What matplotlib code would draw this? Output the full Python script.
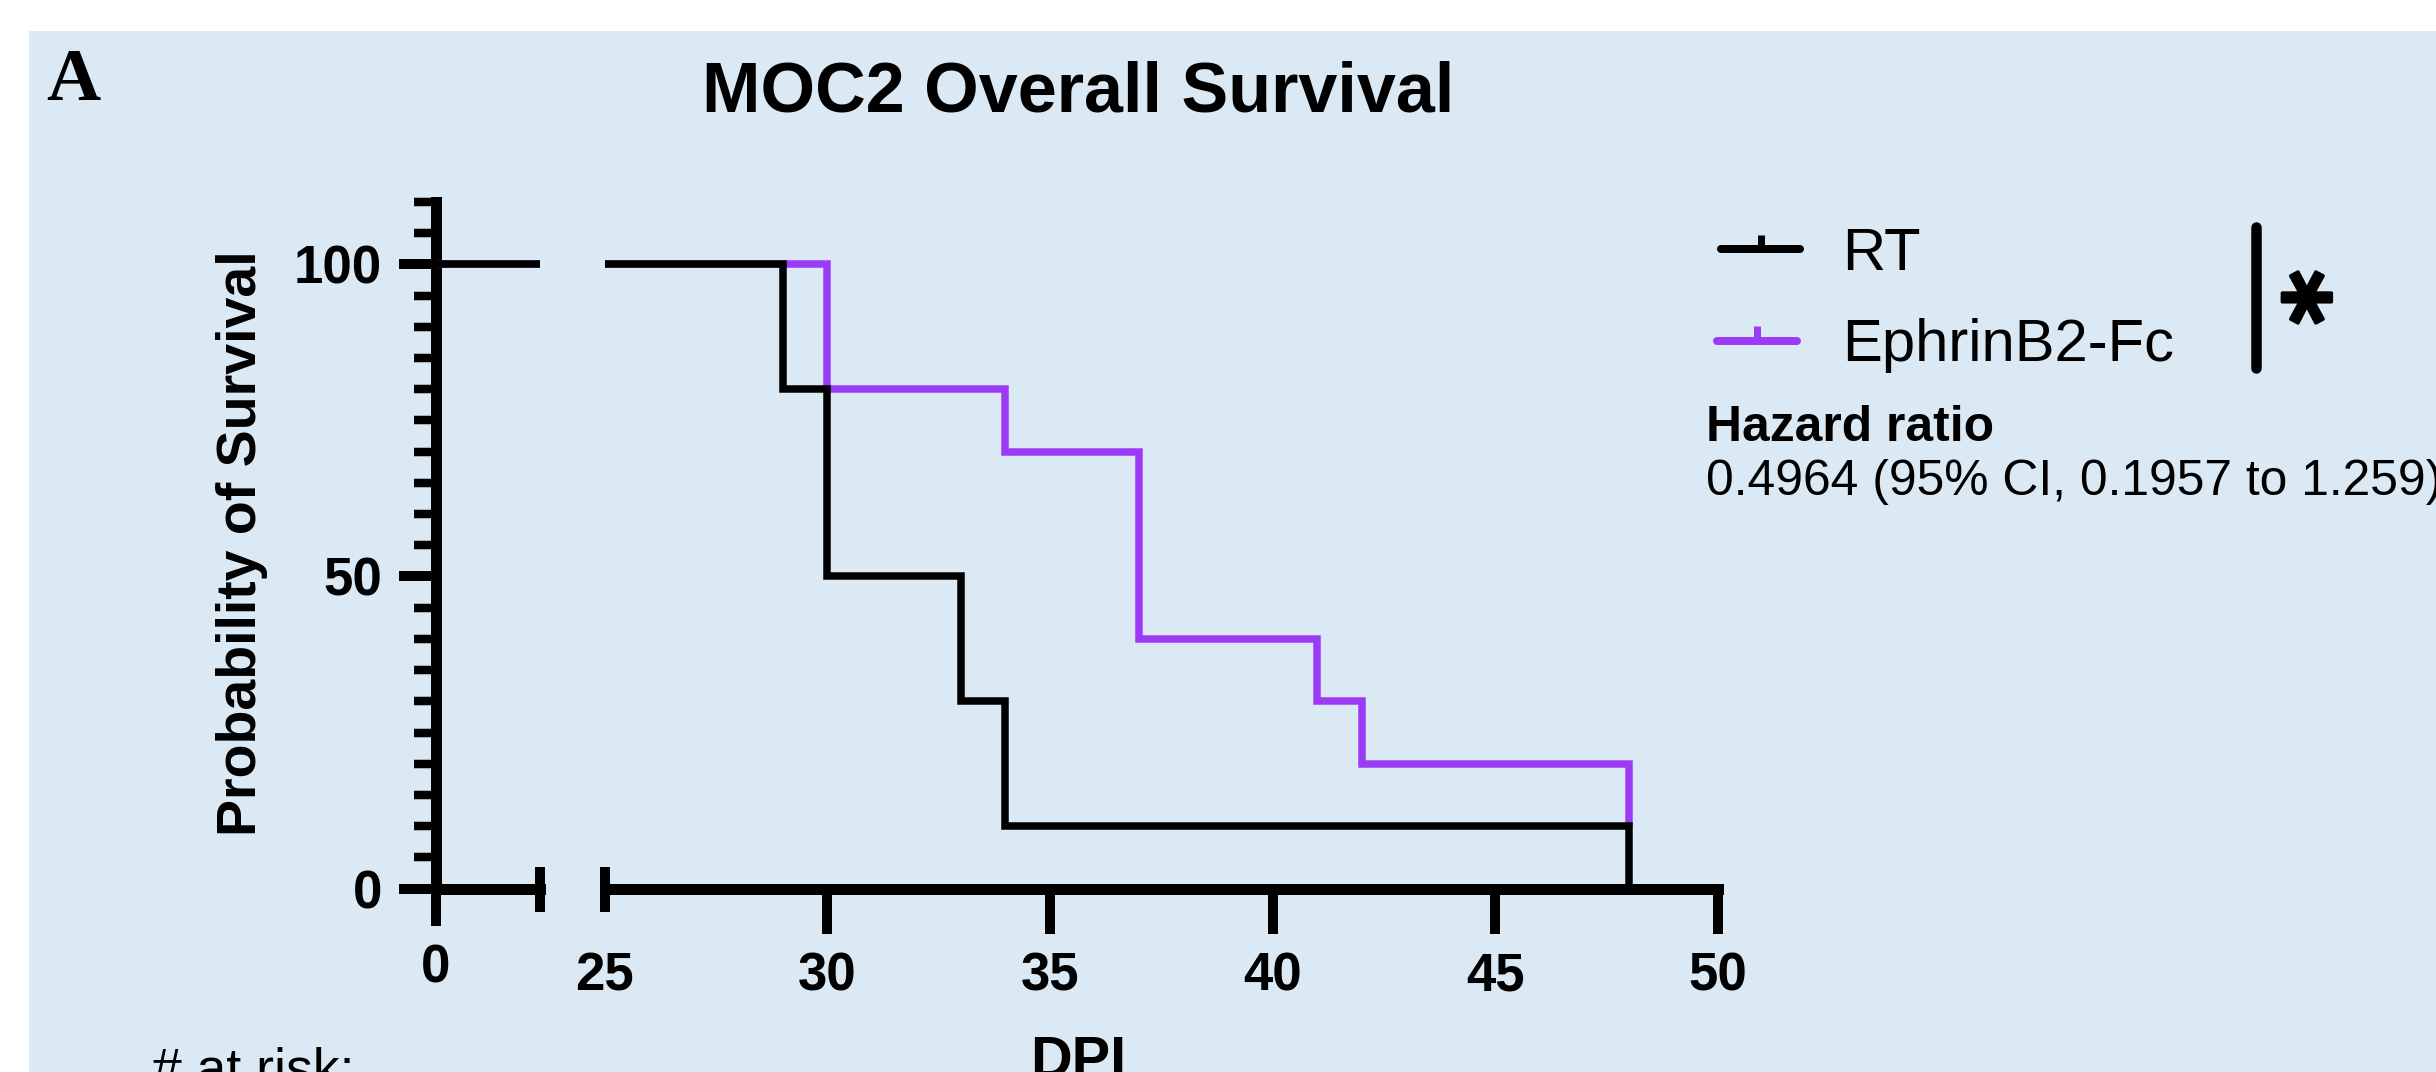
import matplotlib
matplotlib.use('Agg')
import matplotlib.pyplot as plt
import matplotlib.patheffects as pe
from matplotlib.patches import Rectangle
from matplotlib.lines import Line2D
from matplotlib.ticker import FixedLocator, FixedFormatter, NullFormatter

plt.rcParams['font.family'] = ['Liberation Sans', 'DejaVu Sans']
plt.rcParams['font.weight'] = 'bold'

# ---------------- data ----------------
rt_days = [0, 29, 30, 33, 34, 48]
rt_surv = [100, 80, 50, 30, 10, 0]
eph_days = [0, 30, 34, 37, 41, 42, 48]
eph_surv = [100, 80, 70, 40, 30, 20, 10]
series_names = ['RT', 'EphrinB2-Fc']
series_colors = ['#000000', '#9B3BF6']
x_ticks_left = [0]
x_ticks_right = [30, 35, 40, 45, 50]
x_break_start = [25]
y_ticks = [0, 50, 100]
y_minor = [v for v in range(5, 111, 5) if v not in (50, 100)]
title = 'MOC2 Overall Survival'
y_label = 'Probability of Survival'
x_label = 'DPI'
panel_letter = 'A'
hr_label = 'Hazard ratio'
hr_text = '0.4964 (95% CI, 0.1957 to 1.259)'
sig_text = '*'
risk_text = '# at risk:'

# ---------------- figure ----------------
W, H = 2436, 1072
DPI = 100
PT = 72 / DPI  # points per pixel
fig = plt.figure(figsize=(W / DPI, H / DPI), dpi=DPI, facecolor='white')


def fx(px):
    return px / W


def fy(py):
    return 1 - py / H


fig.patches.append(Rectangle((fx(29), 0), 1 - fx(29), fy(31), transform=fig.transFigure,
                             facecolor='#DAE9F4', edgecolor='none', zorder=-10))

y0_px, ytop_px = 888.6, 201.9
ax1 = fig.add_axes([fx(436), fy(y0_px), fx(540) - fx(436), fy(ytop_px) - fy(y0_px)])
ax2 = fig.add_axes([fx(604.5), fy(y0_px), fx(1718) - fx(604.5), fy(ytop_px) - fy(y0_px)])

spine_lw = 11 * PT
tick_w = 10 * PT
curve_lw = 7.5 * PT

for ax in (ax1, ax2):
    ax.set_facecolor('none')
    ax.spines['top'].set_visible(False)
    ax.spines['right'].set_visible(False)
    ax.spines['bottom'].set_linewidth(spine_lw)
    ax.spines['left'].set_linewidth(spine_lw)
    ax.set_ylim(0, 110)
    # curves
    ax.plot(eph_days, eph_surv, drawstyle='steps-post', color=series_colors[1], lw=curve_lw,
            solid_joinstyle='miter', solid_capstyle='butt', zorder=3)
    ax.plot(rt_days, rt_surv, drawstyle='steps-post', color=series_colors[0], lw=curve_lw,
            solid_joinstyle='miter', solid_capstyle='butt', zorder=4)

ax1.set_xlim(0, 2.34)
ax2.set_xlim(25, 50)
ax2.spines['left'].set_visible(False)

# y axis (on ax1)
ax1.yaxis.set_major_locator(FixedLocator(y_ticks))
ax1.yaxis.set_minor_locator(FixedLocator(y_minor))
ax1.tick_params(axis='y', which='major', direction='out', length=37 * PT, width=tick_w,
                pad=17 * PT, labelsize=38)
ax1.tick_params(axis='y', which='minor', direction='out', length=22.4 * PT, width=tick_w * 0.85)
ax2.tick_params(axis='y', which='both', left=False, labelleft=False)

# x axis, first segment
ax1.xaxis.set_major_locator(FixedLocator(x_ticks_left))
ax1.xaxis.set_minor_locator(FixedLocator([2.34]))
ax1.xaxis.set_minor_formatter(NullFormatter())
ax1.tick_params(axis='x', which='major', direction='out', length=37 * PT, width=tick_w,
                pad=18 * PT, labelsize=38)
ax1.tick_params(axis='x', which='minor', direction='inout', length=45 * PT, width=tick_w)

# x axis, second segment
ax2.xaxis.set_major_locator(FixedLocator(x_ticks_right))
ax2.xaxis.set_minor_locator(FixedLocator(x_break_start))
ax2.xaxis.set_minor_formatter(FixedFormatter([str(v) for v in x_break_start]))
ax2.tick_params(axis='x', which='major', direction='out', length=45 * PT, width=tick_w,
                pad=17.5 * PT, labelsize=38)
ax2.tick_params(axis='x', which='minor', direction='inout', length=45 * PT, width=tick_w,
                pad=(17.5 + 22.5) * PT, labelsize=38)

# axis labels
ax1.set_ylabel(y_label, fontsize=40, fontweight='bold', va='baseline')
ax1.yaxis.set_label_coords(fx(255.5), fy(543.5), transform=fig.transFigure)
fig.text(fx(1078.5), fy(1035), x_label, ha='center', va='top', fontsize=41.5, fontweight='bold')

# title and panel letter
fig.text(fx(1078), fy(111.7), title, ha='center', va='baseline', fontsize=50.5, fontweight='bold')
fig.text(fx(46), fy(100), panel_letter, ha='left', va='baseline', fontsize=54, fontweight='bold',
         family=['Liberation Serif', 'DejaVu Serif'])

# legend (manual, Prism style)
leg_rows = [(249.3, 1721, 1800, 1760.5, 235), (340.7, 1717, 1797, 1757, 326)]
for (ly, lx0, lx1, tx, ttop), name, col in zip(leg_rows, series_names, series_colors):
    fig.add_artist(Line2D([fx(lx0), fx(lx1)], [fy(ly), fy(ly)], transform=fig.transFigure,
                          color=col, lw=8 * PT, solid_capstyle='round'))
    fig.add_artist(Line2D([fx(tx), fx(tx)], [fy(ly), fy(ttop)], transform=fig.transFigure,
                          color=col, lw=7 * PT, solid_capstyle='butt'))
    fig.text(fx(1842), fy(ly + 20.5), name, ha='left', va='baseline', fontsize=43,
             fontweight='normal')

# significance bracket
fig.add_artist(Line2D([fx(2256), fx(2256)], [fy(227), fy(368)], transform=fig.transFigure,
                      color='black', lw=10.5 * PT, solid_capstyle='round'))
sig_fs = 76
sig_em = sig_fs / PT
fig.text(fx(2300 + 0.575 * sig_em), fy(297.5), sig_text, family=['DejaVu Sans'],
         rotation=90, rotation_mode='anchor', ha='center', va='baseline',
         fontsize=sig_fs, fontweight='bold',
         path_effects=[pe.withStroke(linewidth=2.5, foreground='black')])

# hazard ratio
fig.text(fx(1706), fy(441), hr_label, ha='left', va='baseline', fontsize=35.8, fontweight='bold')
fig.text(fx(1706), fy(495), hr_text, ha='left', va='baseline', fontsize=35.8, fontweight='normal')

# at risk header (cut by the figure edge)
fig.text(fx(152), fy(1046.7), risk_text, ha='left', va='top', fontsize=38.5, fontweight='normal')

fig.savefig('out.png', dpi=DPI, facecolor='white')
